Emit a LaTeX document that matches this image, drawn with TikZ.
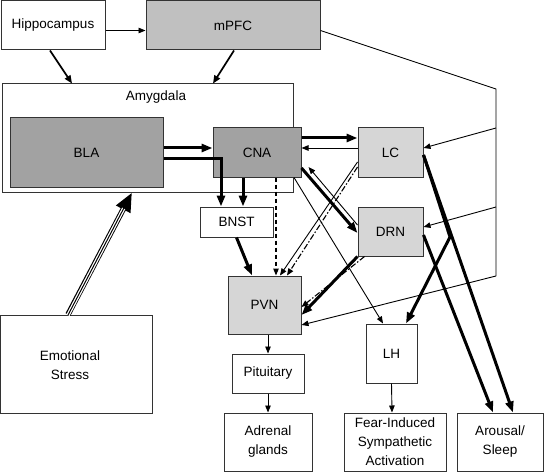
\documentclass[tikz,border=0pt]{standalone}
\usepackage{fontspec}
\setmainfont{Liberation Sans}
\usetikzlibrary{arrows.meta}
\definecolor{midgray}{HTML}{C0C0C0}
\definecolor{darkgray}{HTML}{A2A2A2}
\definecolor{lightgray}{HTML}{D6D6D6}
\definecolor{edge}{HTML}{333333}
\tikzset{
  box/.style={draw=edge, line width=1pt, rectangle, inner sep=1pt, align=center,
    font=\fontsize{13.5}{19}\selectfont},
  thinarr/.style={line width=0.9pt, -{Triangle[length=7pt,width=5.5pt]}},
  medarr/.style={line width=1.7pt, -{Triangle[length=8pt,width=6.5pt]}},
  thickarr/.style={line width=3pt, -{Triangle[length=11pt,width=8pt]}},
  dashedarr/.style={line width=1.1pt, dash pattern=on 4pt off 3pt, -{Triangle[length=7pt,width=5.5pt]}},
  dotdasharr/.style={line width=1.1pt, dash pattern=on 6pt off 2pt on 1.5pt off 2pt, -{Triangle[length=7pt,width=5.5pt]}},
  plainline/.style={line width=0.9pt},
}
\begin{document}
\begin{tikzpicture}[x=1pt,y=-1pt]
\useasboundingbox (0,0) rectangle (545,473);
% nodes
\node[box, minimum width=104pt, minimum height=49pt] (hip) at (53,25.5) {Hippocampus};
\node[box, fill=midgray, minimum width=174pt, minimum height=49pt] (mpfc) at (233,25.5) {mPFC};
\node[box, minimum width=291pt, minimum height=108pt] (amy) at (147.5,138) {};
\node[font=\fontsize{13.5}{19}\selectfont] (amylab) at (156,97) {Amygdala};
\node[box, fill=darkgray, minimum width=153pt, minimum height=69pt] (bla) at (86.5,152.5) {BLA};
\node[box, fill=darkgray, minimum width=88pt, minimum height=49pt] (cna) at (257,152.5) {CNA};
\node[box, minimum width=73pt, minimum height=30pt] (bnst) at (236.5,222) {BNST};
\node[box, fill=lightgray, minimum width=65pt, minimum height=49pt] (lc) at (390.5,152.5) {LC};
\node[box, fill=lightgray, minimum width=65pt, minimum height=49pt] (drn) at (390.5,231.5) {DRN};
\node[box, fill=lightgray, minimum width=73pt, minimum height=58pt] (pvn) at (264.5,305) {PVN};
\node[box, minimum width=51pt, minimum height=59pt] (lh) at (391.5,353.5) {LH};
\node[box, minimum width=72pt, minimum height=39pt] (pit) at (268,373.5) {Pituitary};
\node[box, minimum width=88pt, minimum height=58pt] (adr) at (268,442) {Adrenal\\glands};
\node[box, minimum width=102pt, minimum height=58pt] (fear) at (395,442) {Fear-Induced\\Sympathetic\\Activation};
\node[box, minimum width=86pt, minimum height=58pt] (aro) at (500,442) {Arousal/\\Sleep};
\node[box, minimum width=152pt, minimum height=98pt] (emo) at (76.5,364) {};
\node[font=\fontsize{13.5}{19}\selectfont, align=center] (emolab) at (70,365) {Emotional\\Stress};
% coordinates for the mPFC feedback line
\coordinate (c1) at (496,89);
\coordinate (c2) at (496,276);
\coordinate (b1) at (496,128);
\coordinate (b2) at (496,207);
\coordinate (bend) at (450,237);
% connectors
\draw[thinarr] ([yshift=-5pt]hip.east) -- ([yshift=-5pt]mpfc.west);
\draw[medarr] ([xshift=-3pt]hip.south) -- ([xshift=-75.5pt]amy.north);
\draw[medarr] ([xshift=1pt]mpfc.south) -- ([xshift=65.5pt]amy.north);
\draw[plainline] ([yshift=-5pt]mpfc.east) -- (c1) -- (c2);
\draw[thinarr] (c2) -- ([yshift=-20pt]pvn.east);
\draw[thinarr] (b1) -- ([yshift=4.5pt]lc.east);
\draw[thinarr] (b2) -- ([yshift=4.5pt]drn.east);
% BLA -> CNA, BNST
\draw[thickarr] ([yshift=4.5pt]bla.east) -- ([yshift=4.5pt]cna.west);
\draw[thickarr] ([yshift=-5.5pt]bla.east) -| ([xshift=-15.5pt]bnst.north);
\draw[thickarr] ([xshift=-14pt]cna.south) -- ([xshift=6.5pt]bnst.north);
% CNA <-> LC
\draw[thickarr] ([yshift=14.5pt]cna.east) -- ([yshift=14.5pt]lc.west);
\draw[thinarr] ([yshift=4.5pt]lc.west) -- ([yshift=4.5pt]cna.east);
% CNA <-> DRN
\draw[thickarr] ([yshift=-15.5pt]cna.east) -- ([yshift=-1.5pt]drn.west);
\draw[thinarr] ([yshift=6.5pt]drn.west) -- ([xshift=7pt,yshift=-14.5pt]cna.east);
% CNA -> PVN, LH
\draw[dashedarr] ([xshift=19pt]cna.south) -- ([xshift=11.5pt]pvn.north);
\draw[thinarr] ([xshift=37pt]cna.south) -- ([xshift=-8.5pt]lh.north);
% LC -> PVN
\draw[thinarr] ([yshift=-9.5pt]lc.west) -- ([xshift=15.5pt]pvn.north);
\draw[dotdasharr] ([yshift=-14.5pt]lc.west) -- ([xshift=22.5pt]pvn.north);
% DRN -> PVN
\draw[thickarr] (drn.south west) -- ([yshift=-10pt]pvn.east);
\draw[dotdasharr] ([xshift=7pt]drn.south west) -- ([yshift=-2pt]pvn.east);
% BNST -> PVN
\draw[thickarr] (bnst.south) -- ([xshift=-12.5pt]pvn.north);
% LC -> LH, Arousal ; DRN -> Arousal
\draw[thickarr] ([yshift=-2.5pt]lc.east) -- (bend) -- ([xshift=14.5pt]lh.north);
\draw[thickarr] ([yshift=-2.5pt]lc.east) -- ([xshift=13pt]aro.north);
\draw[thickarr] ([yshift=-3.5pt]drn.east) -- ([xshift=-7pt]aro.north);
% lower chain
\draw[thinarr] ([xshift=3.5pt]pvn.south) -- (pit.north);
\draw[thinarr] (pit.south) -- (adr.north);
\draw[thinarr] (lh.south) -- ([xshift=-3pt]fear.north);
% Emotional stress -> Amygdala (triple line)
\draw[line width=5.5pt, -{Triangle[length=19pt,width=15pt]}] ([xshift=-8.5pt]emo.north) -- ([xshift=-15.5pt]amy.south);
\draw[line width=3.5pt, white, shorten >=18pt] ([xshift=-8.5pt,yshift=-0.6pt]emo.north) -- ([xshift=-15.5pt]amy.south);
\draw[line width=1pt, shorten >=17pt] ([xshift=-8.5pt,yshift=-0.6pt]emo.north) -- ([xshift=-15.5pt]amy.south);
\end{tikzpicture}
\end{document}
